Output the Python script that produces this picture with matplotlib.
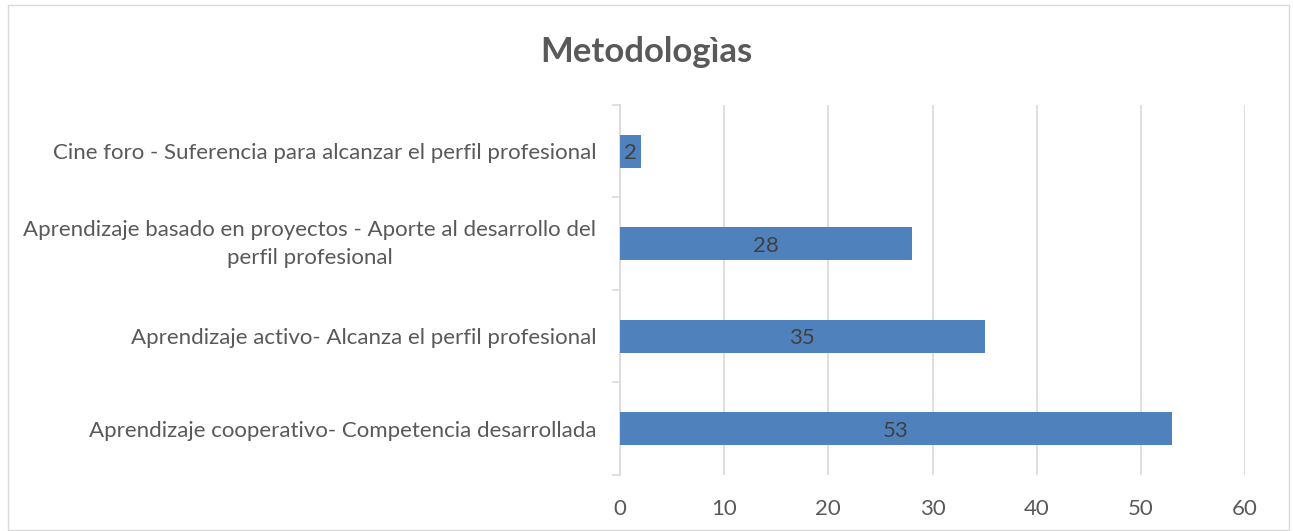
import matplotlib.pyplot as plt
from matplotlib.patches import Rectangle

# datos del grafico
categorias = [
    "Aprendizaje cooperativo- Competencia desarrollada",
    "Aprendizaje activo- Alcanza el perfil profesional",
    "Aprendizaje basado en proyectos - Aporte al desarrollo del\nperfil profesional",
    "Cine foro - Suferencia para alcanzar el perfil profesional",
]
valores = [53, 35, 28, 2]
ticks_x = [0, 10, 20, 30, 40, 50, 60]

plt.rcParams['font.family'] = ['Lato', 'DejaVu Sans']

fig = plt.figure(figsize=(12.93, 5.31), dpi=100)
ax = fig.add_axes([0.4795, 0.1055, 0.4834, 0.6968])

pos = list(range(len(categorias)))
bars = ax.barh(pos, valores, height=0.36, color="#4f81bd", zorder=3)

for b, v in zip(bars, valores):
    ax.text(b.get_x() + b.get_width() / 2, b.get_y() + b.get_height() / 2 - 0.02, str(v),
            ha="center", va="center", fontsize=16, color="#404040", zorder=4)

ax.set_xlim(0, 60)
ax.set_ylim(-0.5, 3.5)
ax.set_xticks(ticks_x)
ax.set_xticklabels([str(t) for t in ticks_x])
ax.set_yticks(pos)
ax.set_yticklabels(categorias, multialignment="center", linespacing=1.5)
ax.set_yticks([-0.5, 0.5, 1.5, 2.5, 3.5], minor=True)

ax.tick_params(axis="x", length=0, labelsize=16, colors="#595959", pad=17)
ax.tick_params(axis="y", which="major", length=0, labelsize=16, colors="#595959", pad=17)
ax.tick_params(axis="y", which="minor", length=6, color="#d9d9d9", width=1.2)

# la etiqueta de dos lineas se centra en su caja
for lbl in ax.get_yticklabels():
    if "\n" in lbl.get_text():
        lbl.set_va("center")

ax.grid(axis="x", color="#d9d9d9", linewidth=1.2, zorder=0)
for s in ["top", "right", "bottom"]:
    ax.spines[s].set_visible(False)
ax.spines["left"].set_color("#d9d9d9")
ax.spines["left"].set_linewidth(1.2)

fig.text(0.5, 0.902, "Metodologìas", ha="center", va="center",
         fontsize=25, fontweight="bold", color="#595959")

# borde del area del grafico
fig.patches.append(Rectangle((0.006, 0.002), 0.991, 0.988, transform=fig.transFigure,
                             fill=False, edgecolor="#d9d9d9", linewidth=1))

fig.savefig("out.png", dpi=100)
